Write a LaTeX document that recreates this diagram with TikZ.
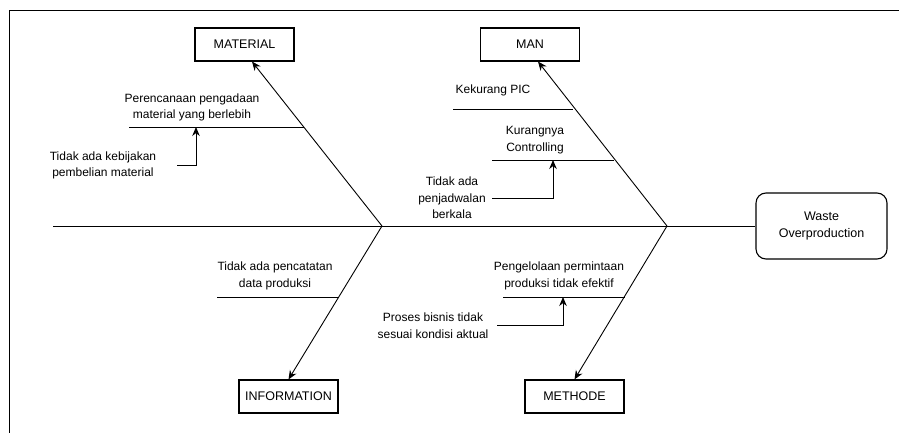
\documentclass[tikz,border=0pt]{standalone}
\usepackage{fontspec}
\setmainfont{Liberation Sans}
\usetikzlibrary{arrows.meta,calc,positioning}

\begin{document}
\begin{tikzpicture}[x=1pt,y=-1pt,font=\fontsize{12}{16.5}\selectfont,every path/.style={line width=0.9pt},every text node part/.style={align=center},
	category/.style={draw,line width=1.1pt,minimum width=99pt,minimum height=33pt,inner sep=0pt,font=\fontsize{12.5}{15}\selectfont},
	effectbox/.style={draw,line width=1.1pt,rounded corners=10pt,minimum width=131pt,minimum height=66pt,inner sep=0pt,font=\fontsize{12.5}{17}\selectfont},
	cause/.style={inner sep=0pt},
	bone/.style={-{Stealth[length=9pt,width=7.5pt]}}]
	\useasboundingbox (0,0) rectangle (899,433);
	\draw (9,433) -- (9,10) -- (899,10);

	\node[category] (material) at (244.5,44.5) {MATERIAL};
	\node[category] (man) at (530,44.5) {MAN};
	\node[category] (information) at (288.5,396.5) {INFORMATION};
	\node[category] (methode) at (574.5,396.5) {METHODE};
	\node[effectbox] (waste) at (821.5,226) {Waste\\Overproduction};

	\coordinate (tail) at (53,226);
	\coordinate (j1) at (382,226);
	\coordinate (j2) at (667,226);

	\draw (tail) -- (waste.west);
	\draw[bone] (j1) -- ([xshift=7.5pt]material.south);
	\draw[bone] (j2) -- ([xshift=8pt]man.south);
	\draw[bone] (j1) -- (information.north);
	\draw[bone] (j2) -- (methode.north);

	% material
	\node[cause] (matA) at (192,107.5) {Perencanaan pengadaan\\material yang berlebih};
	\node[cause] (matB) at (103,165.5) {Tidak ada kebijakan\\pembelian material};
	\coordinate (matA1) at (129,127);
	\coordinate (matA2) at (303.5,127);
	\coordinate (matA3) at (196,127);
	\coordinate (matB1) at (177,165);
	\draw (matA1) -- (matA2);
	\draw[bone] (matB1) -| (matA3);

	% man
	\node[cause] (manA) at (493,90) {Kekurang PIC};
	\node[cause] (manB) at (535,140) {Kurangnya\\Controlling};
	\node[cause] (manC) at (452,198) {Tidak ada\\penjadwalan\\berkala};
	\coordinate (manA1) at (453,109);
	\coordinate (manA2) at (573,109);
	\coordinate (manB1) at (492,160);
	\coordinate (manB2) at (614,160);
	\coordinate (manB3) at (553,160);
	\coordinate (manC1) at (492,198);
	\draw (manA1) -- (manA2);
	\draw (manB1) -- (manB2);
	\draw[bone] (manC1) -| (manB3);

	% information
	\node[cause] (infA) at (275,276) {Tidak ada pencatatan\\data produksi};
	\coordinate (infA1) at (217,297);
	\coordinate (infA2) at (339,297);
	\draw (infA1) -- (infA2);

	% methode
	\node[cause] (metA) at (559,276) {Pengelolaan permintaan\\produksi tidak efektif};
	\node[cause] (metB) at (433,325.5) {Proses bisnis tidak\\sesuai kondisi aktual};
	\coordinate (metA1) at (503,297);
	\coordinate (metA2) at (624.5,297);
	\coordinate (metA3) at (563,297);
	\coordinate (metB1) at (497,325);
	\draw (metA1) -- (metA2);
	\draw[bone] (metB1) -| (metA3);
\end{tikzpicture}
\end{document}
